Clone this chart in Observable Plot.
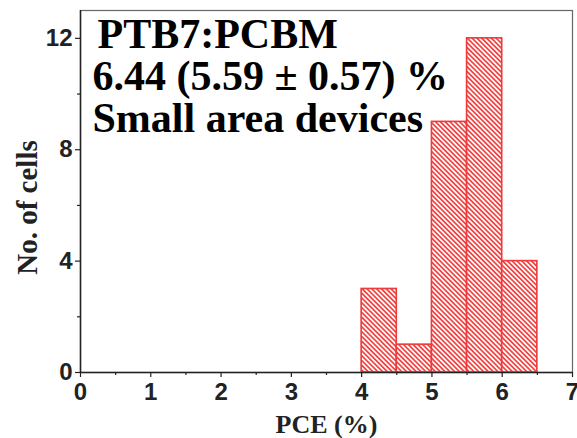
<!DOCTYPE html>
<html><head><meta charset="utf-8">
<script src="https://cdn.jsdelivr.net/npm/d3@7"></script>
<script src="https://cdn.jsdelivr.net/npm/@observablehq/plot@0.6"></script>
<style>body{margin:0;background:#fff}</style>
</head><body><div id="chart"></div>
<script>
const binStart = [4.0, 4.5, 5.0, 5.5, 6.0];
const binEnd = [4.5, 5.0, 5.5, 6.0, 6.5];
const counts = [3, 1, 9, 12, 4];
const xTicks = [0, 1, 2, 3, 4, 5, 6, 7];
const xMinor = [0.5, 1.5, 2.5, 3.5, 4.5, 5.5, 6.5];
const yTicks = [0, 4, 8, 12];
const yMinor = [2, 6, 10];
const titleLines = ["PTB7:PCBM", "6.44 (5.59 \u00b1 0.57) %", "Small area devices"];
const xLabel = "PCE (%)";
const yLabel = "No. of cells";

const bars = counts.map((c, i) => ({x1: binStart[i], x2: binEnd[i], n: c}));
const serif = "'Liberation Serif', 'Times New Roman', serif";
const sans = "'Liberation Sans', Arial, sans-serif";
const ink = "#222";

const titleStyle = {frameAnchor: "top-left", textAnchor: "start", lineAnchor: "middle", text: d => d,
  fontFamily: serif, fontSize: 42, fontWeight: "bold", fill: "#000"};

const plot = Plot.plot({
  width: 577, height: 438,
  marginLeft: 80, marginTop: 10, marginRight: 5, marginBottom: 66,
  x: {domain: [0, 7]},
  y: {domain: [0, 13]},
  style: {background: "#fff"},
  marks: [
    Plot.rectY(bars, {x1: "x1", x2: "x2", y: "n", fill: "url(#hatch)", stroke: "#ee3a3a", strokeWidth: 1.6, inset: 0}),
    Plot.frame({stroke: "#666", strokeWidth: 1.2}),
    Plot.ruleX([0], {stroke: ink, strokeWidth: 1.5}),
    Plot.ruleY([0], {stroke: ink, strokeWidth: 1.5}),
    Plot.axisX({ticks: xTicks, tickSize: 5, tickPadding: 5, tickFormat: d => d, label: null,
      fontFamily: sans, fontSize: 24, fontWeight: "bold", color: ink, stroke: ink, strokeWidth: 1.2}),
    Plot.axisX({ticks: xMinor, tickSize: 3, text: null, label: null, stroke: ink, strokeWidth: 1.2}),
    Plot.axisY({ticks: yTicks, tickSize: 5, tickPadding: 3, tickFormat: d => d, label: null,
      fontFamily: sans, fontSize: 24, fontWeight: "bold", color: ink, stroke: ink, strokeWidth: 1.2}),
    Plot.axisY({ticks: yMinor, tickSize: 3, text: null, label: null, stroke: ink, strokeWidth: 1.2}),
    Plot.text([xLabel], {frameAnchor: "bottom", textAnchor: "middle", lineAnchor: "middle", text: d => d, dy: 52,
      fontFamily: serif, fontSize: 26, fontWeight: "bold", fill: ink}),
    Plot.text([yLabel], {frameAnchor: "left", textAnchor: "middle", lineAnchor: "middle", text: d => d, rotate: -90, dx: -53, dy: 16,
      fontFamily: serif, fontSize: 29, fontWeight: "bold", fill: ink}),
    Plot.text([titleLines[0]], {...titleStyle, dx: 17, dy: 24}),
    Plot.text([titleLines[1]], {...titleStyle, dx: 12, dy: 66}),
    Plot.text([titleLines[2]], {...titleStyle, dx: 12, dy: 108})
  ]
});

const defs = d3.select(plot).insert("defs", ":first-child");
const pat = defs.append("pattern").attr("id", "hatch").attr("patternUnits", "userSpaceOnUse")
  .attr("width", 3.4).attr("height", 3.4).attr("patternTransform", "rotate(-45)");
pat.append("rect").attr("width", 3.4).attr("height", 3.4).attr("fill", "#fff");
pat.append("line").attr("x1", 0.9).attr("y1", 0).attr("x2", 0.9).attr("y2", 3.4).attr("stroke", "#f04040").attr("stroke-width", 1.7);

document.getElementById("chart").appendChild(plot);
</script>
</body></html>
